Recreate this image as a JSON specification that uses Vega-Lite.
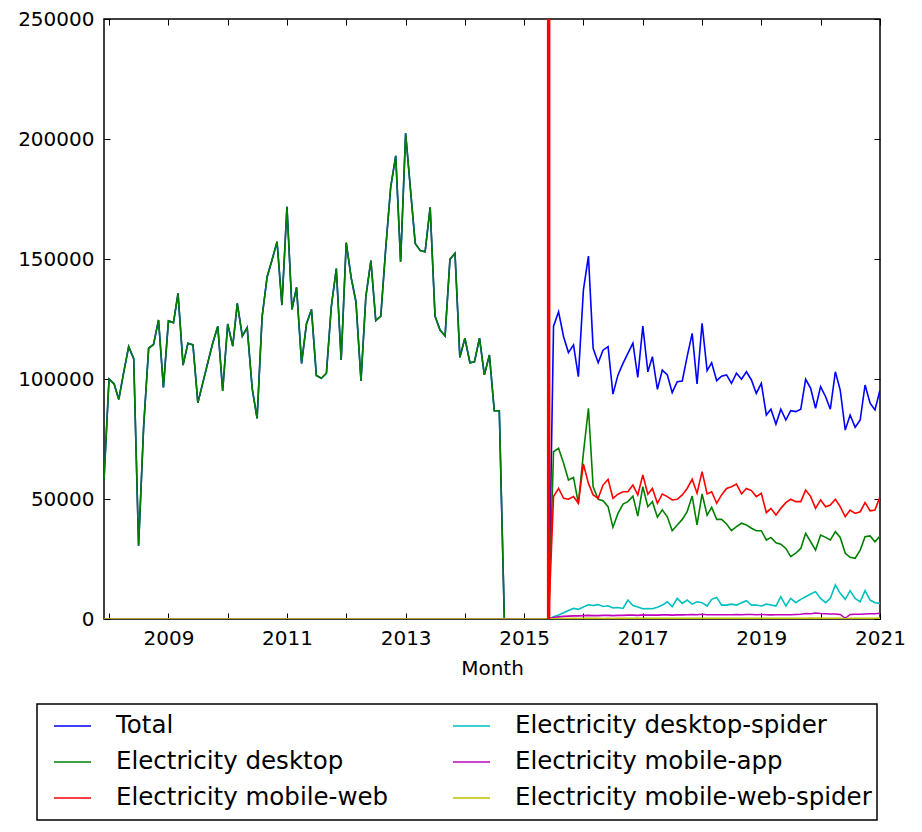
{
  "$schema": "https://vega.github.io/schema/vega-lite/v6.json",
  "width": 776,
  "height": 600,
  "autosize": {"type": "none"},
  "padding": {"left": 104, "top": 19, "right": 42, "bottom": 213},
  "background": "white",
  "config": {
    "font": "DejaVu Sans",
    "view": {"stroke": "black", "strokeWidth": 1.5},
    "axis": {
      "labelFont": "DejaVu Sans",
      "labelFontSize": 20,
      "labelColor": "black",
      "titleFont": "DejaVu Sans",
      "titleFontSize": 20,
      "titleFontWeight": "normal",
      "titleColor": "black",
      "tickColor": "black",
      "tickSize": -6,
      "tickWidth": 1,
      "grid": false,
      "domain": false,
      "labelFlush": false,
      "labelOverlap": false
    },
    "legend": {
      "labelFont": "DejaVu Sans",
      "labelFontSize": 24.5,
      "labelColor": "black",
      "labelLimit": 600,
      "strokeColor": "black",
      "strokeWidth": 1.5,
      "fillColor": "white"
    }
  },
  "layer": [
    {
      "data": {
        "values": [
          {"m":"2007-12","Total":58000,"desktop":58000,"mobile-web":0,"desktop-spider":0,"mobile-app":0,"mobile-web-spider":0},
          {"m":"2008-01","Total":100000,"desktop":100000,"mobile-web":0,"desktop-spider":0,"mobile-app":0,"mobile-web-spider":0},
          {"m":"2008-02","Total":98000,"desktop":98000,"mobile-web":0,"desktop-spider":0,"mobile-app":0,"mobile-web-spider":0},
          {"m":"2008-03","Total":91500,"desktop":91500,"mobile-web":0,"desktop-spider":0,"mobile-app":0,"mobile-web-spider":0},
          {"m":"2008-04","Total":103000,"desktop":103000,"mobile-web":0,"desktop-spider":0,"mobile-app":0,"mobile-web-spider":0},
          {"m":"2008-05","Total":113500,"desktop":113500,"mobile-web":0,"desktop-spider":0,"mobile-app":0,"mobile-web-spider":0},
          {"m":"2008-06","Total":108500,"desktop":108500,"mobile-web":0,"desktop-spider":0,"mobile-app":0,"mobile-web-spider":0},
          {"m":"2008-07","Total":30500,"desktop":30500,"mobile-web":0,"desktop-spider":0,"mobile-app":0,"mobile-web-spider":0},
          {"m":"2008-08","Total":80000,"desktop":80000,"mobile-web":0,"desktop-spider":0,"mobile-app":0,"mobile-web-spider":0},
          {"m":"2008-09","Total":112800,"desktop":112800,"mobile-web":0,"desktop-spider":0,"mobile-app":0,"mobile-web-spider":0},
          {"m":"2008-10","Total":114400,"desktop":114400,"mobile-web":0,"desktop-spider":0,"mobile-app":0,"mobile-web-spider":0},
          {"m":"2008-11","Total":124600,"desktop":124600,"mobile-web":0,"desktop-spider":0,"mobile-app":0,"mobile-web-spider":0},
          {"m":"2008-12","Total":96500,"desktop":96500,"mobile-web":0,"desktop-spider":0,"mobile-app":0,"mobile-web-spider":0},
          {"m":"2009-01","Total":124200,"desktop":124200,"mobile-web":0,"desktop-spider":0,"mobile-app":0,"mobile-web-spider":0},
          {"m":"2009-02","Total":123500,"desktop":123500,"mobile-web":0,"desktop-spider":0,"mobile-app":0,"mobile-web-spider":0},
          {"m":"2009-03","Total":135700,"desktop":135700,"mobile-web":0,"desktop-spider":0,"mobile-app":0,"mobile-web-spider":0},
          {"m":"2009-04","Total":105800,"desktop":105800,"mobile-web":0,"desktop-spider":0,"mobile-app":0,"mobile-web-spider":0},
          {"m":"2009-05","Total":114900,"desktop":114900,"mobile-web":0,"desktop-spider":0,"mobile-app":0,"mobile-web-spider":0},
          {"m":"2009-06","Total":114200,"desktop":114200,"mobile-web":0,"desktop-spider":0,"mobile-app":0,"mobile-web-spider":0},
          {"m":"2009-07","Total":90100,"desktop":90100,"mobile-web":0,"desktop-spider":0,"mobile-app":0,"mobile-web-spider":0},
          {"m":"2009-08","Total":98500,"desktop":98500,"mobile-web":0,"desktop-spider":0,"mobile-app":0,"mobile-web-spider":0},
          {"m":"2009-09","Total":107000,"desktop":107000,"mobile-web":0,"desktop-spider":0,"mobile-app":0,"mobile-web-spider":0},
          {"m":"2009-10","Total":115000,"desktop":115000,"mobile-web":0,"desktop-spider":0,"mobile-app":0,"mobile-web-spider":0},
          {"m":"2009-11","Total":122000,"desktop":122000,"mobile-web":0,"desktop-spider":0,"mobile-app":0,"mobile-web-spider":0},
          {"m":"2009-12","Total":95100,"desktop":95100,"mobile-web":0,"desktop-spider":0,"mobile-app":0,"mobile-web-spider":0},
          {"m":"2010-01","Total":122900,"desktop":122900,"mobile-web":0,"desktop-spider":0,"mobile-app":0,"mobile-web-spider":0},
          {"m":"2010-02","Total":113700,"desktop":113700,"mobile-web":0,"desktop-spider":0,"mobile-app":0,"mobile-web-spider":0},
          {"m":"2010-03","Total":131500,"desktop":131500,"mobile-web":0,"desktop-spider":0,"mobile-app":0,"mobile-web-spider":0},
          {"m":"2010-04","Total":117900,"desktop":117900,"mobile-web":0,"desktop-spider":0,"mobile-app":0,"mobile-web-spider":0},
          {"m":"2010-05","Total":121400,"desktop":121400,"mobile-web":0,"desktop-spider":0,"mobile-app":0,"mobile-web-spider":0},
          {"m":"2010-06","Total":96000,"desktop":96000,"mobile-web":0,"desktop-spider":0,"mobile-app":0,"mobile-web-spider":0},
          {"m":"2010-07","Total":83600,"desktop":83600,"mobile-web":0,"desktop-spider":0,"mobile-app":0,"mobile-web-spider":0},
          {"m":"2010-08","Total":126000,"desktop":126000,"mobile-web":0,"desktop-spider":0,"mobile-app":0,"mobile-web-spider":0},
          {"m":"2010-09","Total":142600,"desktop":142600,"mobile-web":0,"desktop-spider":0,"mobile-app":0,"mobile-web-spider":0},
          {"m":"2010-10","Total":149600,"desktop":149600,"mobile-web":0,"desktop-spider":0,"mobile-app":0,"mobile-web-spider":0},
          {"m":"2010-11","Total":157200,"desktop":157200,"mobile-web":0,"desktop-spider":0,"mobile-app":0,"mobile-web-spider":0},
          {"m":"2010-12","Total":130800,"desktop":130800,"mobile-web":0,"desktop-spider":0,"mobile-app":0,"mobile-web-spider":0},
          {"m":"2011-01","Total":171800,"desktop":171800,"mobile-web":0,"desktop-spider":0,"mobile-app":0,"mobile-web-spider":0},
          {"m":"2011-02","Total":129000,"desktop":129000,"mobile-web":0,"desktop-spider":0,"mobile-app":0,"mobile-web-spider":0},
          {"m":"2011-03","Total":138200,"desktop":138200,"mobile-web":0,"desktop-spider":0,"mobile-app":0,"mobile-web-spider":0},
          {"m":"2011-04","Total":106500,"desktop":106500,"mobile-web":0,"desktop-spider":0,"mobile-app":0,"mobile-web-spider":0},
          {"m":"2011-05","Total":122900,"desktop":122900,"mobile-web":0,"desktop-spider":0,"mobile-app":0,"mobile-web-spider":0},
          {"m":"2011-06","Total":129000,"desktop":129000,"mobile-web":0,"desktop-spider":0,"mobile-app":0,"mobile-web-spider":0},
          {"m":"2011-07","Total":101500,"desktop":101500,"mobile-web":0,"desktop-spider":0,"mobile-app":0,"mobile-web-spider":0},
          {"m":"2011-08","Total":100300,"desktop":100300,"mobile-web":0,"desktop-spider":0,"mobile-app":0,"mobile-web-spider":0},
          {"m":"2011-09","Total":102400,"desktop":102400,"mobile-web":0,"desktop-spider":0,"mobile-app":0,"mobile-web-spider":0},
          {"m":"2011-10","Total":130000,"desktop":130000,"mobile-web":0,"desktop-spider":0,"mobile-app":0,"mobile-web-spider":0},
          {"m":"2011-11","Total":146000,"desktop":146000,"mobile-web":0,"desktop-spider":0,"mobile-app":0,"mobile-web-spider":0},
          {"m":"2011-12","Total":107900,"desktop":107900,"mobile-web":0,"desktop-spider":0,"mobile-app":0,"mobile-web-spider":0},
          {"m":"2012-01","Total":156800,"desktop":156800,"mobile-web":0,"desktop-spider":0,"mobile-app":0,"mobile-web-spider":0},
          {"m":"2012-02","Total":142000,"desktop":142000,"mobile-web":0,"desktop-spider":0,"mobile-app":0,"mobile-web-spider":0},
          {"m":"2012-03","Total":132200,"desktop":132200,"mobile-web":0,"desktop-spider":0,"mobile-app":0,"mobile-web-spider":0},
          {"m":"2012-04","Total":99300,"desktop":99300,"mobile-web":0,"desktop-spider":0,"mobile-app":0,"mobile-web-spider":0},
          {"m":"2012-05","Total":134300,"desktop":134300,"mobile-web":0,"desktop-spider":0,"mobile-app":0,"mobile-web-spider":0},
          {"m":"2012-06","Total":149300,"desktop":149300,"mobile-web":0,"desktop-spider":0,"mobile-app":0,"mobile-web-spider":0},
          {"m":"2012-07","Total":124300,"desktop":124300,"mobile-web":0,"desktop-spider":0,"mobile-app":0,"mobile-web-spider":0},
          {"m":"2012-08","Total":126200,"desktop":126200,"mobile-web":0,"desktop-spider":0,"mobile-app":0,"mobile-web-spider":0},
          {"m":"2012-09","Total":155000,"desktop":155000,"mobile-web":0,"desktop-spider":0,"mobile-app":0,"mobile-web-spider":0},
          {"m":"2012-10","Total":180000,"desktop":180000,"mobile-web":0,"desktop-spider":0,"mobile-app":0,"mobile-web-spider":0},
          {"m":"2012-11","Total":193000,"desktop":193000,"mobile-web":0,"desktop-spider":0,"mobile-app":0,"mobile-web-spider":0},
          {"m":"2012-12","Total":148900,"desktop":148900,"mobile-web":0,"desktop-spider":0,"mobile-app":0,"mobile-web-spider":0},
          {"m":"2013-01","Total":202400,"desktop":202400,"mobile-web":0,"desktop-spider":0,"mobile-app":0,"mobile-web-spider":0},
          {"m":"2013-02","Total":178000,"desktop":178000,"mobile-web":0,"desktop-spider":0,"mobile-app":0,"mobile-web-spider":0},
          {"m":"2013-03","Total":156500,"desktop":156500,"mobile-web":0,"desktop-spider":0,"mobile-app":0,"mobile-web-spider":0},
          {"m":"2013-04","Total":153500,"desktop":153500,"mobile-web":0,"desktop-spider":0,"mobile-app":0,"mobile-web-spider":0},
          {"m":"2013-05","Total":153000,"desktop":153000,"mobile-web":0,"desktop-spider":0,"mobile-app":0,"mobile-web-spider":0},
          {"m":"2013-06","Total":171500,"desktop":171500,"mobile-web":0,"desktop-spider":0,"mobile-app":0,"mobile-web-spider":0},
          {"m":"2013-07","Total":126200,"desktop":126200,"mobile-web":0,"desktop-spider":0,"mobile-app":0,"mobile-web-spider":0},
          {"m":"2013-08","Total":120400,"desktop":120400,"mobile-web":0,"desktop-spider":0,"mobile-app":0,"mobile-web-spider":0},
          {"m":"2013-09","Total":117900,"desktop":117900,"mobile-web":0,"desktop-spider":0,"mobile-app":0,"mobile-web-spider":0},
          {"m":"2013-10","Total":149900,"desktop":149900,"mobile-web":0,"desktop-spider":0,"mobile-app":0,"mobile-web-spider":0},
          {"m":"2013-11","Total":152400,"desktop":152400,"mobile-web":0,"desktop-spider":0,"mobile-app":0,"mobile-web-spider":0},
          {"m":"2013-12","Total":109000,"desktop":109000,"mobile-web":0,"desktop-spider":0,"mobile-app":0,"mobile-web-spider":0},
          {"m":"2014-01","Total":117000,"desktop":117000,"mobile-web":0,"desktop-spider":0,"mobile-app":0,"mobile-web-spider":0},
          {"m":"2014-02","Total":106800,"desktop":106800,"mobile-web":0,"desktop-spider":0,"mobile-app":0,"mobile-web-spider":0},
          {"m":"2014-03","Total":107200,"desktop":107200,"mobile-web":0,"desktop-spider":0,"mobile-app":0,"mobile-web-spider":0},
          {"m":"2014-04","Total":117000,"desktop":117000,"mobile-web":0,"desktop-spider":0,"mobile-app":0,"mobile-web-spider":0},
          {"m":"2014-05","Total":101700,"desktop":101700,"mobile-web":0,"desktop-spider":0,"mobile-app":0,"mobile-web-spider":0},
          {"m":"2014-06","Total":110000,"desktop":110000,"mobile-web":0,"desktop-spider":0,"mobile-app":0,"mobile-web-spider":0},
          {"m":"2014-07","Total":86800,"desktop":86800,"mobile-web":0,"desktop-spider":0,"mobile-app":0,"mobile-web-spider":0},
          {"m":"2014-08","Total":86800,"desktop":86800,"mobile-web":0,"desktop-spider":0,"mobile-app":0,"mobile-web-spider":0},
          {"m":"2014-09","Total":0,"desktop":0,"mobile-web":0,"desktop-spider":0,"mobile-app":0,"mobile-web-spider":0},
          {"m":"2014-10","Total":0,"desktop":0,"mobile-web":0,"desktop-spider":0,"mobile-app":0,"mobile-web-spider":0},
          {"m":"2014-11","Total":0,"desktop":0,"mobile-web":0,"desktop-spider":0,"mobile-app":0,"mobile-web-spider":0},
          {"m":"2014-12","Total":0,"desktop":0,"mobile-web":0,"desktop-spider":0,"mobile-app":0,"mobile-web-spider":0},
          {"m":"2015-01","Total":0,"desktop":0,"mobile-web":0,"desktop-spider":0,"mobile-app":0,"mobile-web-spider":0},
          {"m":"2015-02","Total":0,"desktop":0,"mobile-web":0,"desktop-spider":0,"mobile-app":0,"mobile-web-spider":0},
          {"m":"2015-03","Total":0,"desktop":0,"mobile-web":0,"desktop-spider":0,"mobile-app":0,"mobile-web-spider":0},
          {"m":"2015-04","Total":0,"desktop":0,"mobile-web":0,"desktop-spider":0,"mobile-app":0,"mobile-web-spider":0},
          {"m":"2015-05","Total":0,"desktop":0,"mobile-web":0,"desktop-spider":0,"mobile-app":0,"mobile-web-spider":0},
          {"m":"2015-06","Total":0,"desktop":0,"mobile-web":0,"desktop-spider":0,"mobile-app":0,"mobile-web-spider":0},
          {"m":"2015-07","Total":122000,"desktop":69700,"mobile-web":51000,"desktop-spider":900,"mobile-app":600,"mobile-web-spider":100},
          {"m":"2015-08","Total":128000,"desktop":71100,"mobile-web":54400,"desktop-spider":1700,"mobile-app":900,"mobile-web-spider":150},
          {"m":"2015-09","Total":117600,"desktop":64900,"mobile-web":50300,"desktop-spider":2600,"mobile-app":1100,"mobile-web-spider":200},
          {"m":"2015-10","Total":111000,"desktop":57900,"mobile-web":49900,"desktop-spider":3500,"mobile-app":1200,"mobile-web-spider":200},
          {"m":"2015-11","Total":114200,"desktop":59000,"mobile-web":51000,"desktop-spider":4400,"mobile-app":1300,"mobile-web-spider":250},
          {"m":"2015-12","Total":101000,"desktop":48200,"mobile-web":48200,"desktop-spider":4000,"mobile-app":1300,"mobile-web-spider":200},
          {"m":"2016-01","Total":137000,"desktop":69000,"mobile-web":64600,"desktop-spider":5000,"mobile-app":1400,"mobile-web-spider":250},
          {"m":"2016-02","Total":151200,"desktop":87800,"mobile-web":56500,"desktop-spider":5900,"mobile-app":1500,"mobile-web-spider":300},
          {"m":"2016-03","Total":112800,"desktop":55100,"mobile-web":51700,"desktop-spider":5600,"mobile-app":1400,"mobile-web-spider":250},
          {"m":"2016-04","Total":106800,"desktop":49900,"mobile-web":50300,"desktop-spider":6000,"mobile-app":1400,"mobile-web-spider":250},
          {"m":"2016-05","Total":112000,"desktop":49300,"mobile-web":55800,"desktop-spider":5200,"mobile-app":1500,"mobile-web-spider":200},
          {"m":"2016-06","Total":113500,"desktop":46800,"mobile-web":58200,"desktop-spider":5500,"mobile-app":1500,"mobile-web-spider":250},
          {"m":"2016-07","Total":93700,"desktop":38200,"mobile-web":50300,"desktop-spider":4600,"mobile-app":1400,"mobile-web-spider":200},
          {"m":"2016-08","Total":101700,"desktop":44000,"mobile-web":52000,"desktop-spider":4800,"mobile-app":1500,"mobile-web-spider":250},
          {"m":"2016-09","Total":106500,"desktop":47900,"mobile-web":53000,"desktop-spider":4400,"mobile-app":1500,"mobile-web-spider":250},
          {"m":"2016-10","Total":110700,"desktop":48900,"mobile-web":53000,"desktop-spider":7900,"mobile-app":1600,"mobile-web-spider":300},
          {"m":"2016-11","Total":114900,"desktop":51200,"mobile-web":55800,"desktop-spider":5600,"mobile-app":1600,"mobile-web-spider":250},
          {"m":"2016-12","Total":100700,"desktop":42900,"mobile-web":51700,"desktop-spider":5000,"mobile-app":1500,"mobile-web-spider":250},
          {"m":"2017-01","Total":122000,"desktop":55100,"mobile-web":60000,"desktop-spider":4300,"mobile-app":1700,"mobile-web-spider":300},
          {"m":"2017-02","Total":103000,"desktop":46800,"mobile-web":52000,"desktop-spider":4400,"mobile-app":1600,"mobile-web-spider":250},
          {"m":"2017-03","Total":109300,"desktop":48900,"mobile-web":54400,"desktop-spider":4300,"mobile-app":1600,"mobile-web-spider":250},
          {"m":"2017-04","Total":95700,"desktop":42400,"mobile-web":48200,"desktop-spider":4900,"mobile-app":1600,"mobile-web-spider":250},
          {"m":"2017-05","Total":103700,"desktop":45500,"mobile-web":52100,"desktop-spider":5800,"mobile-app":1700,"mobile-web-spider":300},
          {"m":"2017-06","Total":101700,"desktop":42600,"mobile-web":51000,"desktop-spider":7200,"mobile-app":1700,"mobile-web-spider":250},
          {"m":"2017-07","Total":94300,"desktop":36800,"mobile-web":49600,"desktop-spider":5100,"mobile-app":1600,"mobile-web-spider":250},
          {"m":"2017-08","Total":98900,"desktop":39200,"mobile-web":49900,"desktop-spider":8600,"mobile-app":1700,"mobile-web-spider":250},
          {"m":"2017-09","Total":99200,"desktop":41500,"mobile-web":51700,"desktop-spider":6500,"mobile-app":1700,"mobile-web-spider":300},
          {"m":"2017-10","Total":109300,"desktop":44700,"mobile-web":54400,"desktop-spider":7900,"mobile-app":1800,"mobile-web-spider":300},
          {"m":"2017-11","Total":119000,"desktop":51200,"mobile-web":58200,"desktop-spider":6200,"mobile-app":1900,"mobile-web-spider":300},
          {"m":"2017-12","Total":97900,"desktop":39200,"mobile-web":52400,"desktop-spider":7200,"mobile-app":1800,"mobile-web-spider":250},
          {"m":"2018-01","Total":123200,"desktop":52100,"mobile-web":61400,"desktop-spider":6800,"mobile-app":2000,"mobile-web-spider":300},
          {"m":"2018-02","Total":103500,"desktop":43300,"mobile-web":52100,"desktop-spider":5400,"mobile-app":1800,"mobile-web-spider":250},
          {"m":"2018-03","Total":106800,"desktop":46500,"mobile-web":53000,"desktop-spider":8200,"mobile-app":1800,"mobile-web-spider":250},
          {"m":"2018-04","Total":99300,"desktop":41500,"mobile-web":48200,"desktop-spider":9000,"mobile-app":1800,"mobile-web-spider":250},
          {"m":"2018-05","Total":101200,"desktop":41500,"mobile-web":51700,"desktop-spider":5800,"mobile-app":1800,"mobile-web-spider":250},
          {"m":"2018-06","Total":101700,"desktop":39600,"mobile-web":54400,"desktop-spider":5800,"mobile-app":1800,"mobile-web-spider":250},
          {"m":"2018-07","Total":98200,"desktop":36800,"mobile-web":55100,"desktop-spider":6200,"mobile-app":1800,"mobile-web-spider":250},
          {"m":"2018-08","Total":102400,"desktop":38500,"mobile-web":56200,"desktop-spider":5800,"mobile-app":1900,"mobile-web-spider":300},
          {"m":"2018-09","Total":99900,"desktop":39900,"mobile-web":52100,"desktop-spider":6800,"mobile-app":1800,"mobile-web-spider":250},
          {"m":"2018-10","Total":103000,"desktop":39200,"mobile-web":54400,"desktop-spider":7600,"mobile-app":1900,"mobile-web-spider":250},
          {"m":"2018-11","Total":99600,"desktop":37800,"mobile-web":53500,"desktop-spider":5800,"mobile-app":1900,"mobile-web-spider":250},
          {"m":"2018-12","Total":94000,"desktop":36800,"mobile-web":51000,"desktop-spider":5800,"mobile-app":1800,"mobile-web-spider":250},
          {"m":"2019-01","Total":98200,"desktop":36800,"mobile-web":52400,"desktop-spider":5400,"mobile-app":1900,"mobile-web-spider":250},
          {"m":"2019-02","Total":85000,"desktop":32900,"mobile-web":44300,"desktop-spider":6200,"mobile-app":1800,"mobile-web-spider":250},
          {"m":"2019-03","Total":87400,"desktop":34000,"mobile-web":46100,"desktop-spider":5800,"mobile-app":1700,"mobile-web-spider":250},
          {"m":"2019-04","Total":81200,"desktop":31800,"mobile-web":43300,"desktop-spider":5400,"mobile-app":1800,"mobile-web-spider":250},
          {"m":"2019-05","Total":87400,"desktop":31200,"mobile-web":46100,"desktop-spider":9300,"mobile-app":1800,"mobile-web-spider":250},
          {"m":"2019-06","Total":82900,"desktop":29400,"mobile-web":48500,"desktop-spider":5400,"mobile-app":1800,"mobile-web-spider":250},
          {"m":"2019-07","Total":86800,"desktop":26000,"mobile-web":49900,"desktop-spider":8600,"mobile-app":1800,"mobile-web-spider":250},
          {"m":"2019-08","Total":86400,"desktop":27400,"mobile-web":48900,"desktop-spider":6800,"mobile-app":1900,"mobile-web-spider":300},
          {"m":"2019-09","Total":87400,"desktop":29400,"mobile-web":48900,"desktop-spider":8200,"mobile-app":2000,"mobile-web-spider":300},
          {"m":"2019-10","Total":99900,"desktop":35700,"mobile-web":53700,"desktop-spider":9300,"mobile-app":2300,"mobile-web-spider":300},
          {"m":"2019-11","Total":96100,"desktop":32200,"mobile-web":51000,"desktop-spider":10400,"mobile-app":2200,"mobile-web-spider":350},
          {"m":"2019-12","Total":87800,"desktop":28700,"mobile-web":46100,"desktop-spider":11400,"mobile-app":2500,"mobile-web-spider":300},
          {"m":"2020-01","Total":96800,"desktop":35000,"mobile-web":49600,"desktop-spider":8600,"mobile-app":2300,"mobile-web-spider":350},
          {"m":"2020-02","Total":92600,"desktop":34000,"mobile-web":46800,"desktop-spider":6800,"mobile-app":2200,"mobile-web-spider":300},
          {"m":"2020-03","Total":87400,"desktop":32900,"mobile-web":47500,"desktop-spider":8600,"mobile-app":2100,"mobile-web-spider":300},
          {"m":"2020-04","Total":103000,"desktop":36400,"mobile-web":49900,"desktop-spider":14200,"mobile-app":2100,"mobile-web-spider":300},
          {"m":"2020-05","Total":95400,"desktop":34000,"mobile-web":46800,"desktop-spider":10700,"mobile-app":1900,"mobile-web-spider":300},
          {"m":"2020-06","Total":78700,"desktop":27400,"mobile-web":42600,"desktop-spider":8200,"mobile-app":300,"mobile-web-spider":100},
          {"m":"2020-07","Total":85000,"desktop":25700,"mobile-web":45400,"desktop-spider":11800,"mobile-app":1900,"mobile-web-spider":250},
          {"m":"2020-08","Total":79900,"desktop":25300,"mobile-web":44000,"desktop-spider":8600,"mobile-app":2000,"mobile-web-spider":300},
          {"m":"2020-09","Total":82900,"desktop":28700,"mobile-web":44700,"desktop-spider":7200,"mobile-app":2000,"mobile-web-spider":300},
          {"m":"2020-10","Total":97500,"desktop":34300,"mobile-web":48500,"desktop-spider":11800,"mobile-app":2100,"mobile-web-spider":300},
          {"m":"2020-11","Total":89900,"desktop":34600,"mobile-web":45100,"desktop-spider":7900,"mobile-app":2200,"mobile-web-spider":300},
          {"m":"2020-12","Total":87100,"desktop":32200,"mobile-web":45400,"desktop-spider":6800,"mobile-app":2200,"mobile-web-spider":300},
          {"m":"2021-01","Total":95400,"desktop":34600,"mobile-web":51000,"desktop-spider":6500,"mobile-app":2400,"mobile-web-spider":350}
        ]
      },
      "transform": [
        {"fold": ["Total", "desktop", "mobile-web", "desktop-spider", "mobile-app", "mobile-web-spider"], "as": ["series", "views"]}
      ],
      "mark": {"type": "line", "strokeWidth": 1.6, "clip": true},
      "encoding": {
        "x": {
          "field": "m",
          "type": "temporal",
          "title": "Month",
          "scale": {"type": "utc", "domain": [{"year": 2007, "month": 12, "date": 1, "utc": true}, {"year": 2021, "month": 1, "date": 1, "utc": true}]},
          "axis": {
            "orient": "bottom",
            "tickCount": {"interval": "year", "step": 1},
            "labelExpr": "utcyear(datum.value) % 2 == 1 ? utcFormat(datum.value, '%Y') : ''",
            "labelPadding": 15,
            "titlePadding": 10
          }
        },
        "y": {
          "field": "views",
          "type": "quantitative",
          "title": null,
          "scale": {"domain": [0, 250000], "nice": false},
          "axis": {
            "orient": "left",
            "values": [0, 50000, 100000, 150000, 200000, 250000],
            "format": "d",
            "labelPadding": 16
          }
        },
        "color": {
          "field": "series",
          "type": "nominal",
          "scale": {
            "domain": ["Total", "desktop", "mobile-web", "desktop-spider", "mobile-app", "mobile-web-spider"],
            "range": ["#0000ff", "#008000", "#ff0000", "#00bfbf", "#bf00bf", "#bfbf00"]
          },
          "legend": {
            "orient": "none",
            "legendX": -67,
            "legendY": 685,
            "direction": "vertical",
            "columns": 2,
            "title": null,
            "symbolType": "stroke",
            "symbolSize": 1369,
            "symbolStrokeWidth": 1.5,
            "symbolOffset": 11,
            "labelOffset": 24,
            "clipHeight": 34,
            "rowPadding": 2,
            "columnPadding": 52,
            "padding": 5,
            "labelExpr": "datum.label == 'Total' ? 'Total' : 'Electricity ' + datum.label"
          }
        }
      }
    },
    {
      "data": {"values": [{"m": "2015-06"}]},
      "mark": {"type": "rule", "color": "#ff0000", "strokeWidth": 3.5},
      "encoding": {
        "x": {
          "field": "m",
          "type": "temporal",
          "scale": {"type": "utc", "domain": [{"year": 2007, "month": 12, "date": 1, "utc": true}, {"year": 2021, "month": 1, "date": 1, "utc": true}]},
          "axis": {"orient": "top", "labels": false, "title": null, "tickCount": {"interval": "year", "step": 1}}
        },
        "y": {
          "datum": 0,
          "type": "quantitative",
          "scale": {"domain": [0, 250000], "nice": false},
          "axis": {"orient": "right", "labels": false, "title": null, "values": [0, 50000, 100000, 150000, 200000, 250000]}
        },
        "y2": {"datum": 250000}
      }
    }
  ],
  "resolve": {"axis": {"x": "independent", "y": "independent"}}
}
